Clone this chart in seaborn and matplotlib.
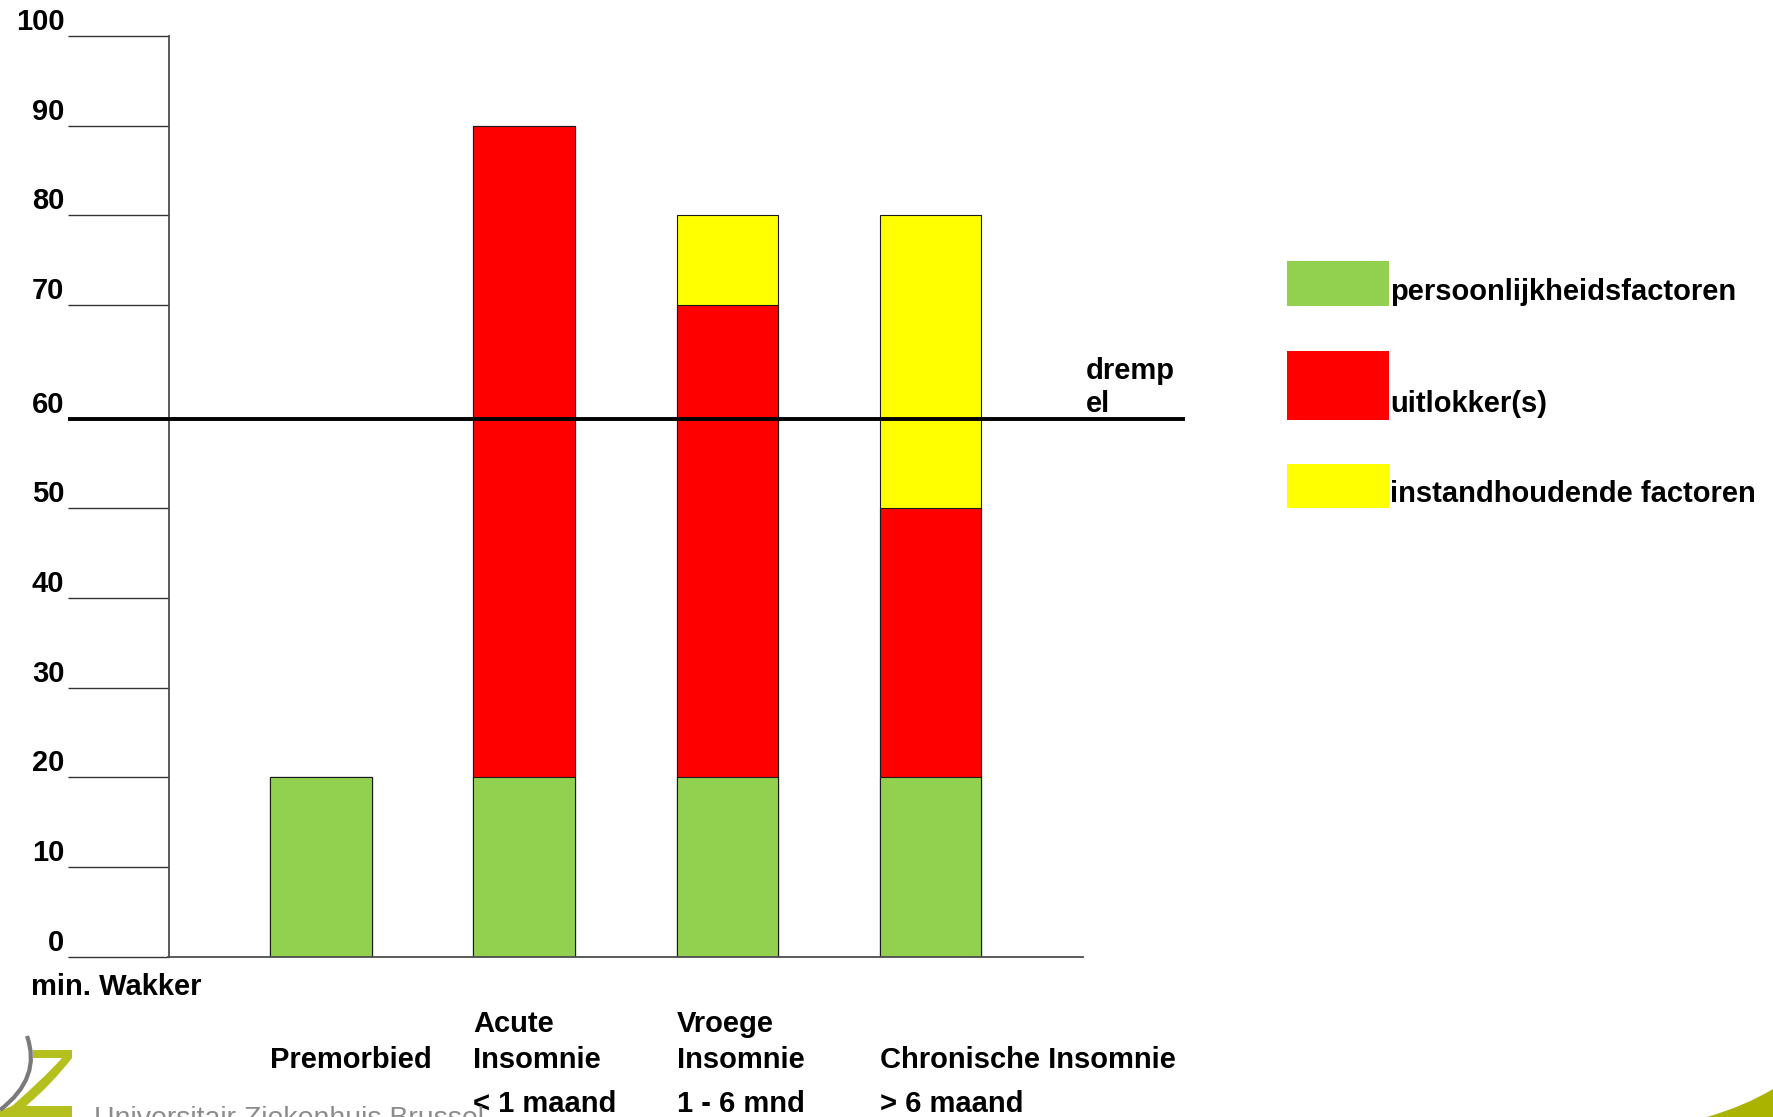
import numpy as np
import pandas as pd
import seaborn as sns
import matplotlib
matplotlib.use("Agg")
import matplotlib.pyplot as plt
from matplotlib.transforms import blended_transform_factory, Affine2D
from matplotlib.patches import Rectangle, PathPatch
from matplotlib.path import Path

# ---- data -------------------------------------------------------------
categories = ["Premorbied", "Acute Insomnie", "Vroege Insomnie", "Chronische Insomnie"]
persoonlijkheidsfactoren = [20, 20, 20, 20]
uitlokkers = [0, 70, 50, 30]
instandhoudende_factoren = [0, 0, 10, 30]
drempel = 60
y_ticks = [0, 10, 20, 30, 40, 50, 60, 70, 80, 90, 100]

# labels under the bars, one entry per text row
label_rows = [
    ["", "Premorbied", ""],
    ["Acute", "Insomnie", "< 1 maand"],
    ["Vroege", "Insomnie", "1 - 6 mnd"],
    ["", "Chronische Insomnie", "> 6 maand"],
]
legend_labels = ["persoonlijkheidsfactoren", "uitlokker(s)", "instandhoudende factoren"]
colors = ["#92D050", "#FF0000", "#FFFF00"]

# ---- style ------------------------------------------------------------
sns.set_theme(style="white")
plt.rcParams["font.family"] = ["Liberation Sans", "DejaVu Sans"]
plt.rcParams["text.color"] = "black"
plt.rcParams["ytick.labelcolor"] = "black"
FS = 21

W, H = 1773, 1117
fig = plt.figure(figsize=(W / 100, H / 100), dpi=100)
ax = fig.add_axes([168.5 / W, 1 - 956.6 / H, (1083 - 168.5) / W, (956.6 - 36.2) / H])

df = pd.DataFrame({
    "categorie": categories,
    "persoonlijkheid": persoonlijkheidsfactoren,
    "uitlokkers": uitlokkers,
    "instandhoudend": instandhoudende_factoren,
})
df["tot_rood"] = df["persoonlijkheid"] + df["uitlokkers"]
df["tot_geel"] = df["tot_rood"] + df["instandhoudend"]

# stacked bars: draw cumulative totals from the top layer down
bar_w = 0.5
for col, c in [("tot_geel", colors[2]), ("tot_rood", colors[1]), ("persoonlijkheid", colors[0])]:
    sns.barplot(data=df, x="categorie", y=col, order=categories, color=c, saturation=1,
                width=bar_w, edgecolor="#1a1a1a", linewidth=0.8, errorbar=None, ax=ax)

# the 60-70 band of the axis is drawn a bit taller than the others
k = 1.27


def fwd(y):
    y = np.asarray(y, dtype=float)
    return np.where(y <= 60, y, np.where(y <= 70, 60 + (y - 60) * k, y + 10 * (k - 1)))


def inv(t):
    t = np.asarray(t, dtype=float)
    return np.where(t <= 60, t, np.where(t <= 60 + 10 * k, 60 + (t - 60) / k, t - 10 * (k - 1)))


ax.set_yscale("function", functions=(fwd, inv))
ax.set_ylim(0, 100)
ax.set_xlim(-0.75, 3.75)

ax.set_yticks(y_ticks)
ax.set_yticklabels([str(v) for v in y_ticks], fontsize=FS, fontweight="bold", color="black")
ax.tick_params(axis="y", left=True, length=72.5, width=1.0, color="#333333", pad=2.5)
plt.setp(ax.get_yticklabels(), va="bottom")
ax.set_xticks(range(len(categories)))
ax.set_xticklabels([])
ax.tick_params(axis="x", length=0)
ax.set_xlabel("")
ax.set_ylabel("")
sns.despine(ax=ax)
for s in ("left", "bottom"):
    ax.spines[s].set_color("#4d4d4d")
    ax.spines[s].set_linewidth(1.3)

# threshold line
span = 1083 - 168.5
bt = blended_transform_factory(ax.transAxes, ax.transData)
ax.plot([(68 - 168.5) / span, (1185 - 168.5) / span], [drempel, drempel], transform=bt,
        color="black", lw=2.8, clip_on=False, zorder=5, solid_capstyle="butt")
fig.text(1086 / W, 1 - 379 / H, "dremp", fontsize=FS, fontweight="bold", va="baseline")
fig.text(1086 / W, 1 - 412.5 / H, "el", fontsize=FS, fontweight="bold", va="baseline")

# category labels, left-aligned with the bars
lt = blended_transform_factory(ax.transData, fig.transFigure)
row_base = [1032.5, 1067.5, 1112.5]
for i, rows in enumerate(label_rows):
    for r, txt in enumerate(rows):
        if txt:
            ax.text(i - bar_w / 2, 1 - row_base[r] / H, txt, transform=lt, fontsize=FS,
                    fontweight="bold", ha="left", va="baseline")
fig.text(31 / W, 1 - 995 / H, "min. Wakker", fontsize=FS, fontweight="bold", va="baseline")

# legend
leg_boxes = [(261, 305.5), (350.5, 419.5), (464, 508)]
leg_base = [300, 412, 502]
for (y0, y1), c, lab, yb in zip(leg_boxes, colors, legend_labels, leg_base):
    fig.add_artist(Rectangle((1287 / W, 1 - y1 / H), (1389 - 1287) / W, (y1 - y0) / H,
                             transform=fig.transFigure, facecolor=c, edgecolor="none"))
    fig.text(1390 / W, 1 - yb / H, lab, fontsize=FS, fontweight="bold", va="baseline")

# institution mark in the corners
px = Affine2D().scale(1 / W, -1 / H).translate(0, 1) + fig.transFigure
lime = "#AAB400"
z_shape = Path(
    [(33, 1050), (72, 1050), (72, 1058), (52, 1084), (26, 1106), (72, 1106), (72, 1117),
     (0, 1117), (0, 1111), (12, 1106), (42, 1080), (62, 1058), (33, 1058), (33, 1050)],
    [Path.MOVETO, Path.LINETO, Path.LINETO, Path.CURVE3, Path.CURVE3, Path.LINETO,
     Path.LINETO, Path.LINETO, Path.LINETO, Path.LINETO, Path.CURVE3, Path.CURVE3,
     Path.LINETO, Path.CLOSEPOLY])
fig.add_artist(PathPatch(z_shape, transform=px, facecolor="#B4C01E", edgecolor="none"))
arc = Path([(27, 1036), (42, 1078), (0, 1110)], [Path.MOVETO, Path.CURVE3, Path.CURVE3])
fig.add_artist(PathPatch(arc, transform=px, fill=False, edgecolor="#7a7a7a", lw=3.0))
fig.text(94 / W, 1 - 1125.5 / H, "Universitair Ziekenhuis Brussel", fontsize=20.5,
         color="#8c8c8c", va="baseline")
corner = Path([(1707, 1117), (1745, 1106), (1773, 1089), (1773, 1117), (1707, 1117)],
              [Path.MOVETO, Path.CURVE3, Path.CURVE3, Path.LINETO, Path.CLOSEPOLY])
fig.add_artist(PathPatch(corner, transform=px, facecolor=lime, edgecolor="none"))

fig.savefig("out.png", dpi=100)
